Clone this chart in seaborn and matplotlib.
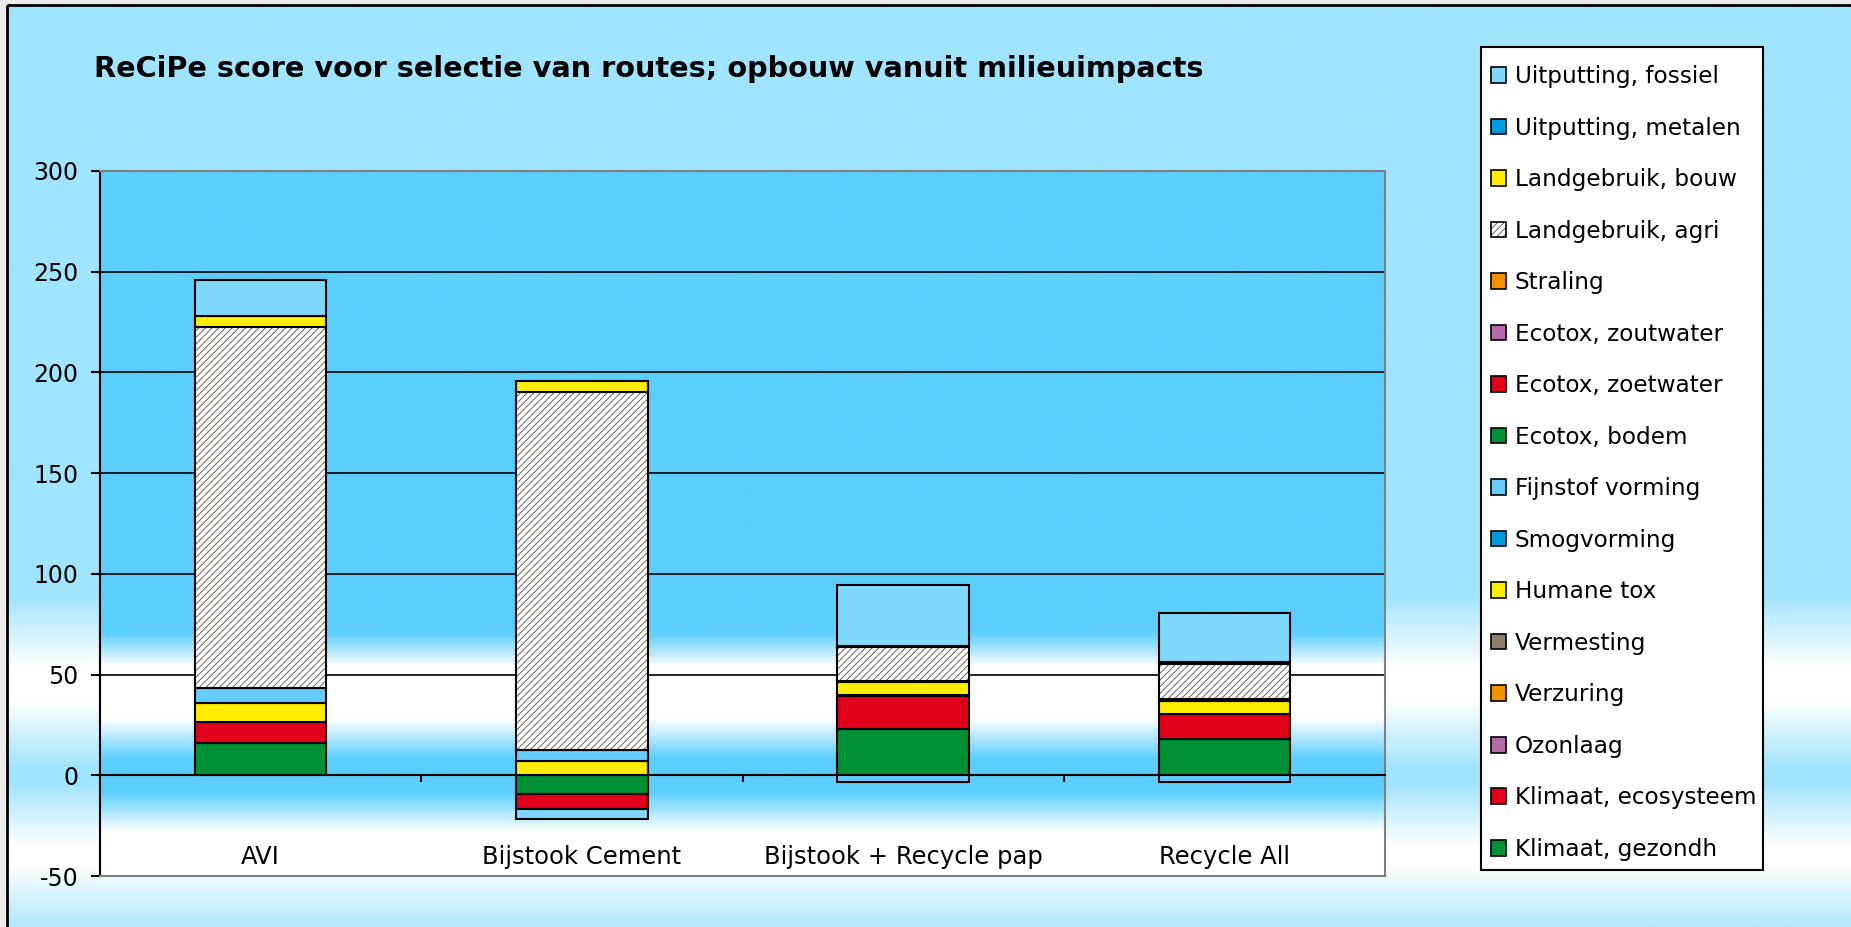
import numpy as np
import pandas as pd
import seaborn as sns
import matplotlib.pyplot as plt
from matplotlib.colors import LinearSegmentedColormap
from matplotlib.patches import Patch, Rectangle

routes = ["AVI", "Bijstook Cement", "Bijstook + Recycle pap", "Recycle All"]

# impact categories in stacking order (bottom of the bar first)
impacts = ["Klimaat, gezondh", "Klimaat, ecosysteem", "Ozonlaag", "Verzuring",
           "Vermesting", "Humane tox", "Smogvorming", "Fijnstof vorming",
           "Ecotox, bodem", "Ecotox, zoetwater", "Ecotox, zoutwater", "Straling",
           "Landgebruik, agri", "Landgebruik, bouw", "Uitputting, metalen",
           "Uitputting, fossiel"]
impact_colors = ["#009036", "#E2001A", "#B36AA8", "#F39200",
                 "#8C7E6E", "#FFED00", "#0099DD", "#66CCFF",
                 "#009036", "#E2001A", "#B36AA8", "#F39200",
                 "#FFFFFF", "#FFED00", "#0099DD", "#80D8FF"]

# scores per route: AVI, Bijstook Cement, Bijstook + Recycle pap, Recycle All
klimaat_gezondh = [16.0, -9.4, 23.2, 18.0]
klimaat_ecosysteem = [10.5, -7.2, 16.3, 12.6]
ozonlaag = [0, 0, 0, 0]
verzuring = [0, 0, 0, 0]
vermesting = [0, 0, 0.6, 0]
humane_tox = [9.5, 7.0, 6.1, 6.5]
smogvorming = [0, 0, 0.6, 0.6]
fijnstof_vorming = [7.5, 5.8, -3.1, -3.3]
ecotox_bodem = [0, 0, 0, 0]
ecotox_zoetwater = [0, 0, 0, 0]
ecotox_zoutwater = [0, 0, 0, 0]
straling = [0, 0, 0, 0]
landgebruik_agri = [179.0, 177.5, 16.7, 17.7]
landgebruik_bouw = [5.4, 5.5, 0.6, 0.6]
uitputting_metalen = [0, 0, 0, 0]
uitputting_fossiel = [18.0, -4.9, 30.6, 24.8]

scores = [klimaat_gezondh, klimaat_ecosysteem, ozonlaag, verzuring, vermesting,
          humane_tox, smogvorming, fijnstof_vorming, ecotox_bodem, ecotox_zoetwater,
          ecotox_zoutwater, straling, landgebruik_agri, landgebruik_bouw,
          uitputting_metalen, uitputting_fossiel]

W, H = 1851, 927
HATCH = "#6E6256"
LIGHT_BLUE = "#A0E4FE"
PLOT_BLUE = "#5BCEFE"

plt.rcParams["font.family"] = ["DejaVu Sans"]
plt.rcParams["axes.unicode_minus"] = False
plt.rcParams["hatch.linewidth"] = 0.7

fig = plt.figure(figsize=(W / 100, H / 100), dpi=100)
fig.patch.set_facecolor("#EBEBEB")

# chart area background with its gradient and frame
bg = fig.add_axes([0, 0, 1, 1], zorder=-5)
outer = LinearSegmentedColormap.from_list("outer", [
    (0.0, LIGHT_BLUE), (0.64, LIGHT_BLUE), (0.72, "white"), (0.755, "white"),
    (0.83, LIGHT_BLUE), (0.845, LIGHT_BLUE), (0.915, "white"), (0.935, "white"),
    (1.0, "#B3E9FE")])
bg.imshow(np.linspace(0, 1, 400).reshape(-1, 1), cmap=outer, extent=(7, W, H, 5),
          aspect="auto", origin="upper")
bg.add_patch(Rectangle((7, 5), W, H, fill=False, edgecolor="black", lw=2))
bg.set_xlim(0, W)
bg.set_ylim(H, 0)
bg.axis("off")

ax = fig.add_axes([100 / W, 51 / H, 1285 / W, 705 / H])
ax.set_facecolor("none")

pos = np.zeros(len(routes))
neg = np.zeros(len(routes))
for name, color, vals in zip(impacts, impact_colors, scores):
    vals = np.asarray(vals, dtype=float)
    base = np.where(vals >= 0, pos, neg)
    keep = vals != 0
    if keep.any():
        df = pd.DataFrame({"route": np.array(routes)[keep], "score": vals[keep]})
        common = dict(data=df, x="route", y="score", order=routes, bottom=base[keep],
                      width=0.41, errorbar=None, saturation=1, ax=ax, zorder=3)
        if name == "Landgebruik, agri":
            sns.barplot(**common, color="white", edgecolor=HATCH,
                        hatch="/////", linewidth=0)
            sns.barplot(**common, color="white", facecolor="none",
                        edgecolor="black", linewidth=1.5)
        else:
            sns.barplot(**common, color=color, edgecolor="black", linewidth=1.5)
    pos += np.clip(vals, 0, None)
    neg += np.clip(vals, None, 0)

inner = LinearSegmentedColormap.from_list("inner", [
    (0.0, "white"), (0.06, "white"), (0.117, PLOT_BLUE), (0.164, PLOT_BLUE),
    (0.221, "white"), (0.296, "white"), (0.344, PLOT_BLUE), (1.0, PLOT_BLUE)])
ax.imshow(np.linspace(0, 1, 400).reshape(-1, 1), cmap=inner,
          extent=(-0.5, 3.5, -50, 300), aspect="auto", origin="lower", zorder=0)

ax.set_xlim(-0.5, 3.5)
ax.set_ylim(-50, 300)
ax.set_xlabel("")
ax.set_ylabel("")
ax.set_axisbelow(True)
ax.yaxis.grid(True, color="black", lw=1.2)
ax.xaxis.grid(False)

ax.set_yticks(range(-50, 301, 50))
ax.tick_params(axis="y", length=6.5, width=1.5, direction="out", labelsize=17, pad=9)
ax.set_xticks(range(len(routes)))
ax.set_xticklabels(routes)
ax.tick_params(axis="x", which="major", length=0, pad=50, labelsize=17.5)
ax.set_xticks(np.arange(len(routes)) + 0.5, minor=True)
ax.tick_params(axis="x", which="minor", length=5, width=1.5, direction="out")

ax.spines["left"].set_color("black")
ax.spines["left"].set_linewidth(1.5)
for side in ["top", "right"]:
    ax.spines[side].set_color("#808080")
    ax.spines[side].set_linewidth(1.5)
ax.spines["bottom"].set_position(("data", 0))
ax.spines["bottom"].set_color("black")
ax.spines["bottom"].set_linewidth(1.5)
ax.axhline(-50, color="#808080", lw=1.5, zorder=2.6, clip_on=False)

fig.text(94 / W, 1 - 69 / H, "ReCiPe score voor selectie van routes; opbouw vanuit milieuimpacts",
         fontsize=20.7, fontweight="bold", ha="left", va="center")

# legend box drawn as its own frame, entries placed inside it
fig.add_artist(Rectangle((1481 / W, 1 - 870 / H), 282 / W, 823 / H,
                         transform=fig.transFigure, facecolor="white",
                         edgecolor="black", lw=1.5, zorder=4))
handles = []
for name, color in zip(impacts[::-1], impact_colors[::-1]):
    if name == "Landgebruik, agri":
        handles.append((Patch(facecolor="white", edgecolor=HATCH, hatch="/////", lw=0),
                        Patch(facecolor="none", edgecolor="black", lw=1.2)))
    else:
        handles.append(Patch(facecolor=color, edgecolor="black", lw=1.2))
leg = fig.legend(handles, impacts[::-1], loc="upper left",
                 bbox_to_anchor=(1491 / W, 1 - 65 / H), borderaxespad=0,
                 frameon=False, fontsize=16.7, handlelength=0.66, handleheight=0.66,
                 handletextpad=0.37, labelspacing=1.23, borderpad=0)
leg.set_zorder(5)

fig.savefig("out.png", dpi=100, facecolor=fig.get_facecolor())
